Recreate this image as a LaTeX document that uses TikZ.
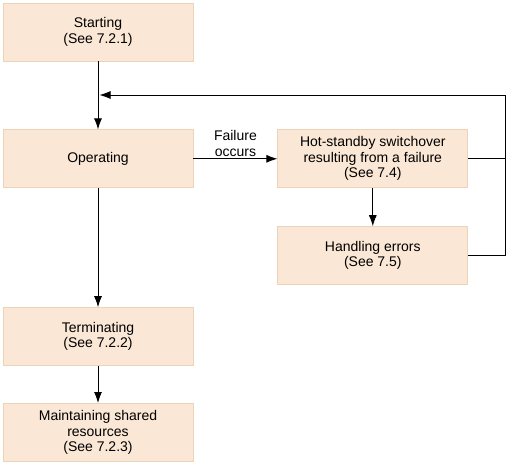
\documentclass[tikz,border=0pt]{standalone}
\usepackage{fontspec}
\setmainfont{Liberation Sans}
\usetikzlibrary{arrows.meta,positioning,calc}
\definecolor{stepfill}{HTML}{FAE7D5}
\definecolor{stepline}{HTML}{EED3B8}
\tikzset{
  stepbox/.style={
    rectangle,
    draw=stepline,
    fill=stepfill,
    line width=0.8pt,
    align=center,
    minimum width=190pt,
    minimum height=58pt,
    inner sep=2pt,
    font=\fontsize{14pt}{15.5pt}\selectfont
  },
  steparrow/.style={
    -{Latex[length=11pt,width=8pt]},
    line width=0.9pt,
    draw=black
  },
  stepline/.style={
    line width=0.9pt,
    draw=black
  }
}

\begin{document}
\begin{tikzpicture}[node distance=68pt and 84pt]
  \useasboundingbox (0pt,0pt) rectangle (508pt,-461pt);
  \node[stepbox] (starting) at (98pt,-32pt) {Starting\\(See 7.2.1)};
  \node[stepbox,below=of starting] (operating) {Operating};
  \node[stepbox,below=119pt of operating] (terminating) {Terminating\\(See 7.2.2)};
  \node[stepbox,below=37pt of terminating] (maintaining)
    {Maintaining shared\\resources\\(See 7.2.3)};

  \node[stepbox,right=of operating] (switchover)
    {Hot-standby switchover\\resulting from a failure\\(See 7.4)};
  \node[stepbox,below=38pt of switchover] (errors) {Handling errors\\(See 7.5)};

  \draw[steparrow] (starting.south) -- (operating.north);
  \draw[steparrow] (operating.east) -- node[above,align=center,inner sep=2pt,
    font=\fontsize{14pt}{16pt}\selectfont] (failure) {Failure\\occurs} (switchover.west);
  \draw[steparrow] (switchover.south) -- (errors.north);
  \draw[steparrow] (operating.south) -- (terminating.north);
  \draw[steparrow] (terminating.south) -- (maintaining.north);

  % both right-hand steps return to the line above Operating
  \coordinate (returnbottom) at ($(errors.east)+(37pt,0)$);
  \coordinate (returntop) at (returnbottom |- 0pt,-95pt);
  \draw[stepline] (switchover.east) -- (switchover.east -| returnbottom);
  \draw[steparrow] (errors.east) -- (returnbottom) -- (returntop)
    -- ($(starting.south |- returntop)+(1.5pt,0)$);
\end{tikzpicture}
\end{document}
